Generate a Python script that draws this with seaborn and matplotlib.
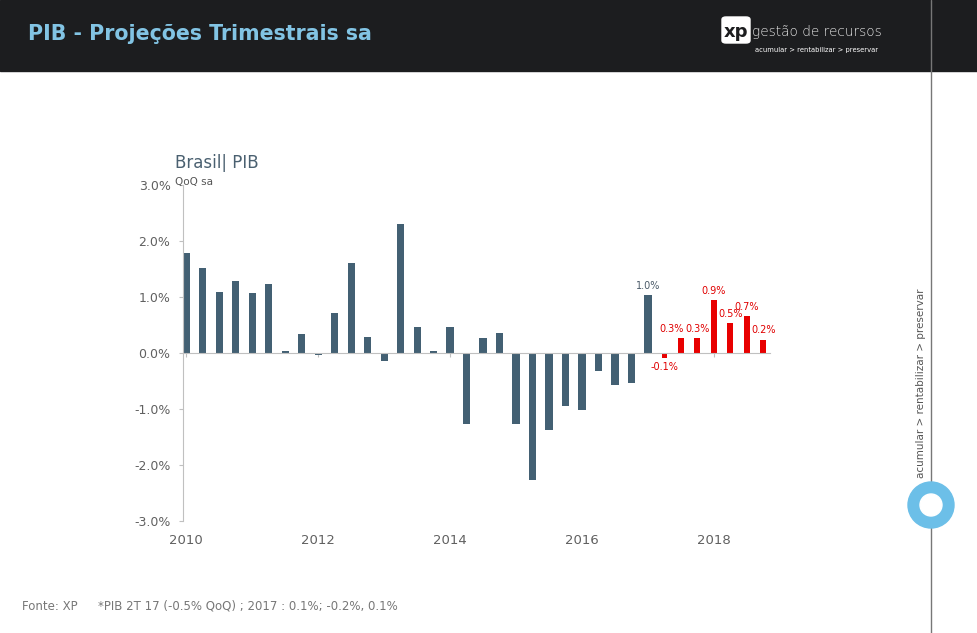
import numpy as np
import pandas as pd
import seaborn as sns
import matplotlib.pyplot as plt
from matplotlib.patches import Rectangle, FancyBboxPatch, Ellipse
from matplotlib.lines import Line2D

# dados: PIB trimestral QoQ sa (realizado ate 1T17, projecao depois)
years = list(range(2010, 2019))
quarters = [f"{y}T{q}" for y in years for q in range(1, 5)]
pib_hist = [1.79, 1.51, 1.09, 1.28, 1.08, 1.23, 0.03, 0.34,
            -0.04, 0.72, 1.60, 0.28, -0.14, 2.30, 0.46, 0.04,
            0.47, -1.27, 0.27, 0.35, -1.26, -2.27, -1.37, -0.95,
            -1.01, -0.33, -0.57, -0.54, 1.04]
pib_proj = [-0.09, 0.27, 0.27, 0.94, 0.53, 0.66, 0.24]
hist_labels = [""] * 28 + ["1.0%"]
proj_labels = ["-0.1%", "0.3%", "0.3%", "0.9%", "0.5%", "0.7%", "0.2%"]
year_ticks = [0, 8, 16, 24, 32]
year_labels = ["2010", "2012", "2014", "2016", "2018"]
y_ticks = [-3, -2, -1, 0, 1, 2, 3]

df_hist = pd.DataFrame({"trimestre": quarters[:len(pib_hist)], "pib": pib_hist})
df_proj = pd.DataFrame({"trimestre": quarters[len(pib_hist):], "pib": pib_proj})

sns.set_style("white")
plt.rcParams['font.family'] = ['DejaVu Sans']

W, H = 978, 633
fig = plt.figure(figsize=(W / 100, H / 100), dpi=100)

def fx(x):
    return x / W

def fy(y):
    return 1 - y / H

# cabecalho escuro
fig.patches.append(Rectangle((0, fy(71)), 1, 71 / H, transform=fig.transFigure,
                             color="#1c1d1f", zorder=0))
fig.text(fx(28), fy(34), "PIB - Projeções Trimestrais sa", color="#82c4e4",
         fontsize=14.8, fontweight="bold", va="center", ha="left")

# logo xp
fig.patches.append(FancyBboxPatch((fx(722), fy(43)), 28 / W, 26 / H,
                                  boxstyle="round,pad=0,rounding_size=0.004",
                                  transform=fig.transFigure, color="white", zorder=1))
fig.text(fx(736), fy(32), "xp", color="#1c1d1f", fontsize=13, fontweight="bold",
         ha="center", va="center")
fig.text(fx(752), fy(32), "gestão de recursos", color="#e8e8e8", fontsize=9.8,
         fontweight="light", ha="left", va="center")
fig.text(fx(755), fy(50), "acumular > rentabilizar > preservar", color="white",
         fontsize=4.9, ha="left", va="center")

# linha vertical e circulo
fig.add_artist(Line2D([fx(931), fx(931)], [0, 1], color="#777777", lw=1, zorder=2))
fig.text(fx(921), fy(383), "acumular > rentabilizar > preservar", color="#555555",
         fontsize=7.5, rotation=90, ha="center", va="center")
fig.patches.append(Ellipse((fx(931), fy(505)), 46 / W, 46 / H, transform=fig.transFigure,
                           color="#6cbfe8", zorder=3))
fig.patches.append(Ellipse((fx(931), fy(505)), 22 / W, 22 / H, transform=fig.transFigure,
                           color="white", zorder=4))

# grafico
ax = fig.add_axes([fx(183), fy(521), (770 - 183) / W, 336 / H])
sns.barplot(data=df_hist, x="trimestre", y="pib", order=quarters, color="#436073",
            width=0.44, saturation=1, errorbar=None, linewidth=0, ax=ax)
sns.barplot(data=df_proj, x="trimestre", y="pib", order=quarters, color="#e80000",
            width=0.36, saturation=1, errorbar=None, linewidth=0, ax=ax)

ax.bar_label(ax.containers[0], labels=hist_labels, padding=3, color="#4a5a68", fontsize=7)
red_txt = ax.bar_label(ax.containers[1], labels=proj_labels, padding=3, color="#e00000", fontsize=7)
# primeiro 0.3% deslocado para a esquerda, como no original
red_txt[1].xyann = (-6.5, 3)

ax.set_xlim(-0.2, 35.4)
ax.set_ylim(-3, 3)
ax.set_yticks(y_ticks)
ax.set_yticklabels([f"{v:.1f}%" for v in y_ticks])
ax.set_xticks(year_ticks)
ax.set_xticklabels(year_labels)
ax.set_xlabel("")
ax.set_ylabel("")

for s in ["top", "right"]:
    ax.spines[s].set_visible(False)
ax.spines["left"].set_color("#c0c0c0")
ax.spines["bottom"].set_position(("data", 0))
ax.spines["bottom"].set_color("#c0c0c0")
ax.tick_params(axis="y", length=3, color="#c0c0c0", labelcolor="#606060",
               labelsize=9, pad=6, left=True)
ax.tick_params(axis="x", length=3, direction="out", color="#c0c0c0", labelcolor="#606060",
               labelsize=9.5, pad=127, bottom=True)

fig.text(fx(175), fy(163), "Brasil| PIB", color="#4a6070", fontsize=12, ha="left", va="center")
fig.text(fx(175), fy(182), "QoQ sa", color="#555555", fontsize=7.5, ha="left", va="center")

# rodape
fig.text(fx(22), fy(606), "Fonte: XP", color="#777777", fontsize=8.5, ha="left", va="center")
fig.text(fx(98), fy(606), "*PIB 2T 17 (-0.5% QoQ) ; 2017 : 0.1%; -0.2%, 0.1%",
         color="#777777", fontsize=8.5, ha="left", va="center")

fig.savefig("out.png", dpi=100)
